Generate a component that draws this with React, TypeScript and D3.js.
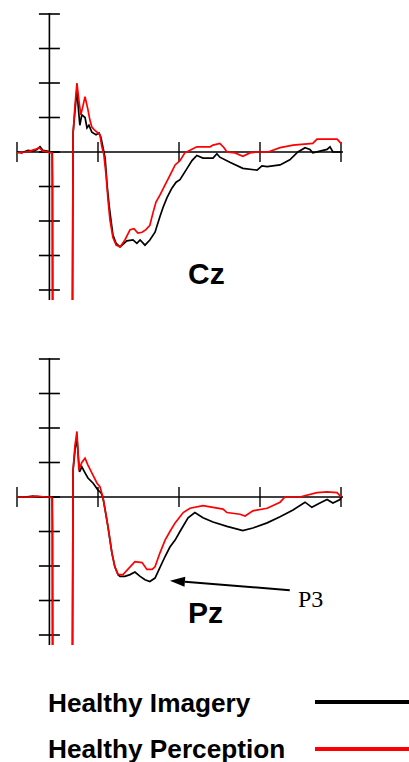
import React from "react";
import * as d3 from "d3";

// Grand-average ERP traces, [time in ms, amplitude in µV] (negative plotted up)
const czImagery: [number, number][] = [
  [-100, 0], [-85, 0.05], [-66, -0.1], [-51, -0.05], [-38, -0.15], [-29, -0.3], [-20, -0.1], [-7, -0.05], [2, 0], [9, 0.05],
  [10, 10], [71, 10], [73, -1.1], [79, -2.4], [85, -3.6], [90, -2.4], [94, -1.55], [100, -2.15], [110, -2.0], [116, -1.4],
  [122, -1.55], [131, -1.15], [144, -1.0], [153, -1.1], [159, -0.85], [165, -0.3], [172, 0.35], [178, 1.9], [184, 3.05],
  [190, 3.95], [196, 4.8], [206, 5.3], [218, 5.5], [227, 5.35], [239, 5.15], [258, 5.1], [270, 5.3], [280, 5.1], [295, 5.4],
  [310, 5.1], [326, 4.65], [341, 3.75], [351, 3.2], [363, 2.65], [378, 2.1], [391, 1.75], [403, 1.6], [425, 0.95], [440, 0.5],
  [455, 0.2], [474, 0.35], [505, 0.35], [517, 0.1], [526, 0.3], [557, 0.6], [597, 0.95], [641, 1.05], [656, 0.8], [672, 0.85],
  [712, 0.75], [742, 0.45], [767, 0], [789, -0.25], [804, -0.15], [813, 0.05], [857, -0.15], [866, -0.3], [875, 0], [900, 0],
];

const czPerception: [number, number][] = [
  [-100, 0.05], [-75, 0], [-60, -0.05], [-44, -0.15], [-32, -0.25], [-20, -0.05], [-4, 0], [8, 0.05], [9.5, 1.6],
  [10, 10], [71, 10], [73, -1.0], [79, -2.7], [85, -4.0], [91, -3.0], [97, -2.15], [104, -2.7], [110, -3.2], [116, -2.7],
  [119, -2.45], [125, -1.85], [131, -1.45], [138, -1.3], [147, -1.15], [156, -1.0], [162, -0.3], [168, 0.15], [175, 1.35],
  [181, 2.8], [187, 3.95], [196, 4.95], [206, 5.4], [218, 5.5], [233, 5.1], [249, 4.5], [261, 4.45], [273, 4.7], [286, 4.65],
  [298, 4.5], [310, 4.25], [320, 3.5], [329, 2.9], [341, 2.5], [357, 1.9], [372, 1.35], [388, 0.75], [403, 0.5], [418, 0.05],
  [434, -0.1], [455, -0.3], [480, -0.3], [496, -0.3], [505, -0.4], [526, -0.5], [539, -0.25], [548, 0], [573, 0.05],
  [597, 0.25], [619, 0.05], [641, 0], [675, 0], [712, -0.25], [752, -0.4], [813, -0.5], [826, -0.75], [888, -0.75], [900, -0.5],
];

const pzImagery: [number, number][] = [
  [-100, 0], [-75, 0], [-51, -0.05], [-29, 0], [-14, 0], [2, 0], [9, 0.05],
  [10, 10], [71, 10], [73, -1.55], [79, -2.7], [85, -3.45], [90, -2.15], [93, -1.45], [100, -1.75], [110, -1.4], [119, -1.1],
  [135, -0.8], [150, -0.4], [159, -0.25], [165, 0], [172, 0.75], [181, 1.75], [187, 2.5], [193, 3.25], [202, 4.05],
  [212, 4.5], [218, 4.6], [233, 4.6], [249, 4.5], [264, 4.35], [280, 4.6], [295, 4.8], [310, 4.9], [326, 4.7], [341, 4.1],
  [357, 3.45], [372, 2.9], [388, 2.5], [403, 2.0], [428, 1.2], [449, 0.9], [474, 1.2], [505, 1.45], [548, 1.7], [597, 1.95],
  [628, 1.8], [672, 1.5], [712, 1.15], [752, 0.75], [789, 0.3], [810, 0.6], [835, 0.35], [857, 0.15], [875, 0.35],
  [897, 0.15], [900, 0],
];

const pzPerception: [number, number][] = [
  [-100, 0], [-60, 0], [-38, -0.05], [-14, 0], [2, 0], [8, 0.05], [9.5, 1.8],
  [10, 10], [71, 10], [73, -1.55], [79, -3.0], [85, -3.8], [91, -1.55], [100, -2.0], [110, -2.25], [119, -1.85], [131, -1.4],
  [147, -0.8], [156, -0.6], [165, 0], [172, 0.75], [181, 1.75], [193, 3.25], [202, 4.05], [212, 4.5], [227, 4.5],
  [242, 4.2], [264, 3.75], [286, 3.8], [301, 4.2], [317, 4.2], [326, 4.05], [341, 3.25], [357, 2.5], [372, 2.0], [388, 1.5],
  [413, 0.9], [434, 0.65], [474, 0.5], [505, 0.6], [536, 0.7], [548, 0.9], [588, 1.0], [604, 1.1], [628, 0.8], [672, 0.65],
  [712, 0.3], [727, 0], [773, 0], [826, -0.25], [857, -0.3], [888, -0.25], [900, 0],
];

const timeTicks = [-100, 150, 400, 650, 900];
const ampTicks = [-8, -6, -4, -2, 0, 2, 4, 6, 8];
const electrodes = ["Cz", "Pz"];
const seriesNames = ["Healthy Imagery", "Healthy Perception"];
const seriesColors = ["#000000", "#ff0000"];

// P3 annotation: arrow from label towards the Pz imagery trough
const p3Tip: [number, number] = [372, 4.85];
const p3Tail: [number, number] = [742, 5.4];

const W = 409;
const H = 762;

const x = d3.scaleLinear().domain([-100, 900]).range([17, 341]);

const panels = [
  { name: electrodes[0], offset: 0, traces: [czImagery, czPerception] },
  { name: electrodes[1], offset: 345, traces: [pzImagery, pzPerception] },
];

function Panel({ name, offset, traces, idx }: { name: string; offset: number; traces: [number, number][][]; idx: number }) {
  const y = d3.scaleLinear().domain([-8, 8]).range([14 + offset, 290 + offset]);
  const axisBottom = 300 + offset;
  const x0 = x(0);
  const y0 = y(0);
  const line = d3
    .line<[number, number]>()
    .x((d) => x(d[0]))
    .y((d) => y(d[1]))
    .curve(d3.curveLinear);
  const clipId = `clip-${idx}`;
  return (
    <g>
      <defs>
        <clipPath id={clipId}>
          <rect x={x(-100) - 1} y={offset} width={x(900) - x(-100) + 3} height={axisBottom - offset} />
        </clipPath>
      </defs>
      {/* amplitude axis */}
      <line x1={x0} x2={x0} y1={y(-8) - 1} y2={axisBottom} stroke="#000" strokeWidth={1.6} />
      {ampTicks.map((t) => (
        <line key={t} x1={x0 - 10.5} x2={x0 + 10.5} y1={y(t)} y2={y(t)} stroke="#000" strokeWidth={1.6} />
      ))}
      {/* time axis */}
      <line x1={x(-100)} x2={x(900) + 2} y1={y0} y2={y0} stroke="#000" strokeWidth={1.4} />
      {timeTicks.map((t) => (
        <line key={t} x1={x(t)} x2={x(t)} y1={y0 - 10} y2={y0 + 10} stroke="#000" strokeWidth={1.4} />
      ))}
      <g clipPath={`url(#${clipId})`}>
        {traces.map((tr, i) => (
          <path
            key={i}
            d={line(tr) ?? ""}
            fill="none"
            stroke={seriesColors[i]}
            strokeWidth={1.7}
            strokeLinejoin="miter"
          />
        ))}
      </g>
      <text
        x={188}
        y={offset + (idx === 0 ? 284 : 278)}
        fontFamily="'Liberation Sans', Arial, sans-serif"
        fontWeight="bold"
        fontSize={30}
        fill="#000"
      >
        {name}
      </text>
    </g>
  );
}

export default function App() {
  const yPz = d3.scaleLinear().domain([-8, 8]).range([14 + 345, 290 + 345]);
  const tip = [x(p3Tip[0]), yPz(p3Tip[1])];
  const tail = [x(p3Tail[0]), yPz(p3Tail[1])];
  const ang = Math.atan2(tip[1] - tail[1], tip[0] - tail[0]);
  const headLen = 15;
  const headHalf = 5;
  const bx = tip[0] - headLen * Math.cos(ang);
  const by = tip[1] - headLen * Math.sin(ang);
  const head = [
    [tip[0], tip[1]],
    [bx + headHalf * Math.sin(ang), by - headHalf * Math.cos(ang)],
    [bx - headHalf * Math.sin(ang), by + headHalf * Math.cos(ang)],
  ];

  return (
    <svg
      width={W}
      height={H}
      style={{ position: "absolute", left: 0, top: 0, background: "#fff" }}
    >
      <rect width={W} height={H} fill="#fff" />
      {panels.map((p, i) => (
        <Panel key={p.name} name={p.name} offset={p.offset} traces={p.traces} idx={i} />
      ))}
      {/* P3 annotation */}
      <line x1={tail[0]} y1={tail[1]} x2={bx} y2={by} stroke="#000" strokeWidth={2} />
      <polygon points={head.map((p) => p.join(",")).join(" ")} fill="#000" />
      <text x={298} y={607} fontFamily="'Liberation Serif', 'Times New Roman', serif" fontSize={24} fill="#000">
        P3
      </text>
      {/* legend */}
      {seriesNames.map((n, i) => (
        <g key={n}>
          <text
            x={48}
            y={712 + i * 46}
            fontFamily="'Liberation Sans', Arial, sans-serif"
            fontWeight="bold"
            fontSize={26.2}
            fill="#000"
          >
            {n}
          </text>
          <line x1={315} x2={W} y1={702 + i * 47} y2={702 + i * 47} stroke={seriesColors[i]} strokeWidth={4} />
        </g>
      ))}
    </svg>
  );
}
